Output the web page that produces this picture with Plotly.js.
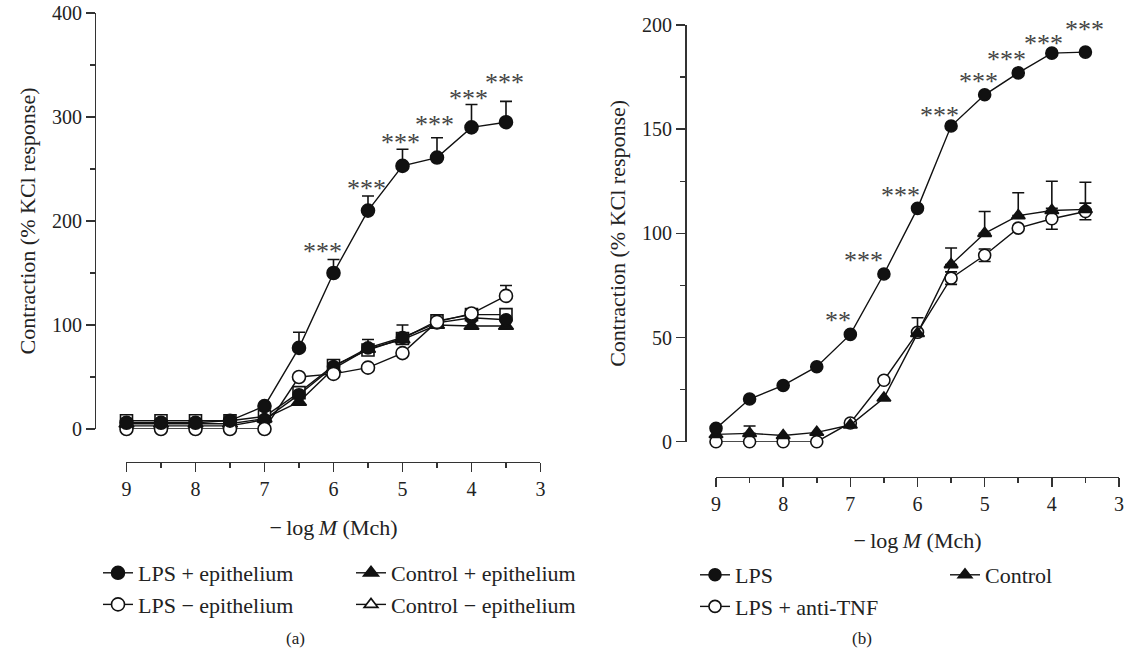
<!DOCTYPE html>
<html><head><meta charset="utf-8">
<script src="https://cdn.plot.ly/plotly-3.0.1.min.js"></script>
<style>html,body{margin:0;padding:0;background:#fff}#chart{width:1127px;height:653px}</style>
</head><body><div id="chart"></div>
<script>
// Shared doses (−log M Mch)
const doses = [9, 8.5, 8, 7.5, 7, 6.5, 6, 5.5, 5, 4.5, 4, 3.5];

// Panel (a)
const lpsEpi        = [6, 6, 6, 8, 22, 78, 150, 210, 253, 261, 290, 295];
const lpsEpiErr     = [NaN, NaN, NaN, NaN, NaN, 15, 13, 14, 16, 19, 22, 20];
const lpsNoEpi      = [0, 0, 0, 0, 0, 50, 53, 59, 73, 103, 111, 128];
const lpsNoEpiErr   = [NaN, NaN, NaN, NaN, NaN, NaN, NaN, NaN, NaN, NaN, NaN, 10];
const ctrlEpi       = [5, 5, 5, 5, 10, 26, 58, 77, 86, 100, 99, 99];
const ctrlEpiErr    = [NaN, NaN, NaN, NaN, NaN, NaN, 5, 9, 14, 3, NaN, NaN];
const ctrlNoEpi     = [8, 8, 8, 8, 12, 35, 61, 76, 87, 104, 110, 110];
const extraFilled   = [3, 3, 3, 3, 9, 33, 60, 78, 88, 102, 107, 105];
const sigA          = ['', '', '', '', '', '', '***', '***', '***', '***', '***', '***'];

// Panel (b)
const lps           = [6.4, 20.5, 27, 36, 51.5, 80.5, 112, 151.5, 166.5, 177, 186.5, 187];
const antiTnf       = [0, 0, 0, 0, 9, 29.5, 52.5, 78.5, 89.5, 102.5, 107, 110.5];
const antiTnfErr    = [NaN, NaN, NaN, NaN, NaN, NaN, NaN, 3, 3, NaN, 5, 4];
const control       = [3.5, 4, 3, 4.5, 8, 21, 52, 85, 100, 108.5, 111, 111.5];
const controlErr    = [NaN, 3.5, NaN, NaN, NaN, NaN, 7.5, 8, 10.5, 11, 14, 13];
const sigB          = ['', '', '', '', '**', '***', '***', '***', '***', '***', '***', '***'];

// label placement (pixel nudges of the significance marks, layout only)
const sigANudgeX = [0, 0, 0, 0, 0, 0, -11, -1, -2, -2, -3, -1];
const sigANudgeY = [0, 0, 0, 0, 0, 0, 8, 8, 7, 13, 6, 19];
const sigBNudgeX = [0, 0, 0, 0, -12, -20, -17, -12, -6, -12, -8, -1];
const sigBNudgeY = [0, 0, 0, 0, 14, 13, 13, 11, 13, 13, 10, 23];

const FONT = '"Liberation Serif", "Times New Roman", Times, serif';
const ink = '#111';

function upErr(arr, w) {
  return {type: 'data', symmetric: false, array: arr, arrayminus: arr.map(v => isNaN(v) ? NaN : 0),
          color: ink, thickness: 1.6, width: w, visible: true};
}
function symErr(arr, w) {
  return {type: 'data', symmetric: true, array: arr, color: ink, thickness: 1.6, width: w, visible: true};
}
function series(name, y, symbol, filled, size, xa, ya, legend, rank, err, show) {
  const t = {
    type: 'scatter', mode: 'lines+markers', name: name, x: doses, y: y,
    xaxis: xa, yaxis: ya, legend: legend, legendrank: rank, cliponaxis: false,
    showlegend: show !== false,
    line: {color: ink, width: 1.4},
    marker: {symbol: symbol, size: size, color: filled ? ink : '#fff', line: {color: ink, width: 1.6}},
    hoverinfo: 'skip'
  };
  if (err) t.error_y = err;
  return t;
}

const traces = [
  // Panel (a), drawn from back to front
  series('Control − epithelium', ctrlNoEpi, 'square', false, 12, 'x', 'y', 'legend3', 2, null, false),
  series('Control + epithelium', ctrlEpi, 'triangle-up', true, 13, 'x', 'y', 'legend3', 1, upErr(ctrlEpiErr, 6)),
  series('unlabelled', extraFilled, 'circle', true, 12, 'x', 'y', 'legend', 9, null, false),
  series('LPS − epithelium', lpsNoEpi, 'circle', false, 13, 'x', 'y', 'legend', 2, upErr(lpsNoEpiErr, 6)),
  series('LPS + epithelium', lpsEpi, 'circle', true, 13, 'x', 'y', 'legend', 1, upErr(lpsEpiErr, 6)),
  // key entry for Control − epithelium as printed in the key (open triangle)
  {type: 'scatter', mode: 'lines+markers', name: 'Control − epithelium', x: [null], y: [null],
   xaxis: 'x', yaxis: 'y', legend: 'legend3', legendrank: 2,
   line: {color: ink, width: 1.4},
   marker: {symbol: 'triangle-up', size: 12, color: '#fff', line: {color: ink, width: 1.6}}},
  // Panel (b)
  series('LPS + anti-TNF', antiTnf, 'circle', false, 12, 'x2', 'y2', 'legend2', 2, symErr(antiTnfErr, 6)),
  series('Control', control, 'triangle-up', true, 12, 'x2', 'y2', 'legend4', 1, upErr(controlErr, 6)),
  series('LPS', lps, 'circle', true, 12, 'x2', 'y2', 'legend2', 1, null)
];

const STAR = {family: FONT, size: 26, color: '#444'};
const annotations = [];
doses.forEach((d, i) => {
  if (sigA[i]) annotations.push({x: d, y: lpsEpi[i] + (isNaN(lpsEpiErr[i]) ? 0 : lpsEpiErr[i]),
    xref: 'x', yref: 'y', text: sigA[i], showarrow: false,
    yshift: sigANudgeY[i], xshift: sigANudgeX[i], font: STAR});
  if (sigB[i]) annotations.push({x: d, y: lps[i],
    xref: 'x2', yref: 'y2', text: sigB[i], showarrow: false,
    yshift: sigBNudgeY[i], xshift: sigBNudgeX[i], font: STAR});
});
annotations.push({x: 295/1127, y: (653-638)/653, xref: 'paper', yref: 'paper', xanchor: 'center', yanchor: 'middle',
  text: '(a)', showarrow: false, font: {family: FONT, size: 17, color: '#222'}});
annotations.push({x: 862/1127, y: (653-638)/653, xref: 'paper', yref: 'paper', xanchor: 'center', yanchor: 'middle',
  text: '(b)', showarrow: false, font: {family: FONT, size: 17, color: '#222'}});

const axisBase = {
  showgrid: false, zeroline: false, showline: true, linecolor: '#333', linewidth: 1.5,
  ticks: 'outside', ticklen: 9, tickwidth: 1.5, tickcolor: '#333', automargin: false,
  tickfont: {family: FONT, size: 20, color: '#222'}, fixedrange: true, anchor: 'free'
};
const minorX = {dtick: 0.5, ticks: 'outside', ticklen: 5, tickwidth: 1.5, tickcolor: '#333'};
const titleFont = {family: FONT, size: 22, color: '#222'};
const xTitleText = '−\u2009log\u2009<i>M</i> (Mch)';
const xTitleA = {text: xTitleText, font: titleFont, standoff: 20};
const xTitleB = {text: xTitleText, font: titleFont, standoff: 18};
const yTitle = {text: 'Contraction (% KCl response)', font: titleFont, standoff: 9};

const legendBase = {
  orientation: 'v', xanchor: 'left', yanchor: 'top', itemwidth: 30, tracegroupgap: 0,
  font: {family: FONT, size: 22, color: '#222'}, bgcolor: 'rgba(0,0,0,0)', traceorder: 'normal',
  itemclick: false, itemdoubleclick: false
};

const layout = {
  width: 1127, height: 653, margin: {l: 0, r: 0, t: 0, b: 0, autoexpand: false},
  paper_bgcolor: '#fff', plot_bgcolor: 'rgba(0,0,0,0)',
  font: {family: FONT, size: 20, color: '#222'},
  showlegend: true,
  xaxis: Object.assign({}, axisBase, {domain: [0.11224, 0.47959], range: [9, 3], dtick: 1,
    position: 0.2925, minor: minorX, title: xTitleA}),
  yaxis: Object.assign({}, axisBase, {domain: [0.34303, 0.98009], range: [0, 400], dtick: 100,
    position: 0.08429, minor: {dtick: 50, ticks: 'outside', ticklen: 5, tickwidth: 1.5, tickcolor: '#333'},
    title: yTitle}),
  xaxis2: Object.assign({}, axisBase, {domain: [0.63532, 0.99290], range: [9, 3], dtick: 1,
    position: 0.26953, minor: minorX, title: xTitleB}),
  yaxis2: Object.assign({}, axisBase, {domain: [0.32358, 0.96171], range: [0, 200], dtick: 50,
    position: 0.60781, minor: {dtick: 25, ticks: 'outside', ticklen: 5, tickwidth: 1.5, tickcolor: '#333'},
    title: yTitle}),
  legend:  Object.assign({}, legendBase, {x: 98/1127,  y: (653-552)/653}),
  legend3: Object.assign({}, legendBase, {x: 351/1127, y: (653-552)/653}),
  legend2: Object.assign({}, legendBase, {x: 695/1127, y: (653-554)/653}),
  legend4: Object.assign({}, legendBase, {x: 945/1127, y: (653-554)/653}),
  annotations: annotations
};

Plotly.newPlot('chart', traces, layout, {staticPlot: true, displayModeBar: false});
</script>
</body></html>
